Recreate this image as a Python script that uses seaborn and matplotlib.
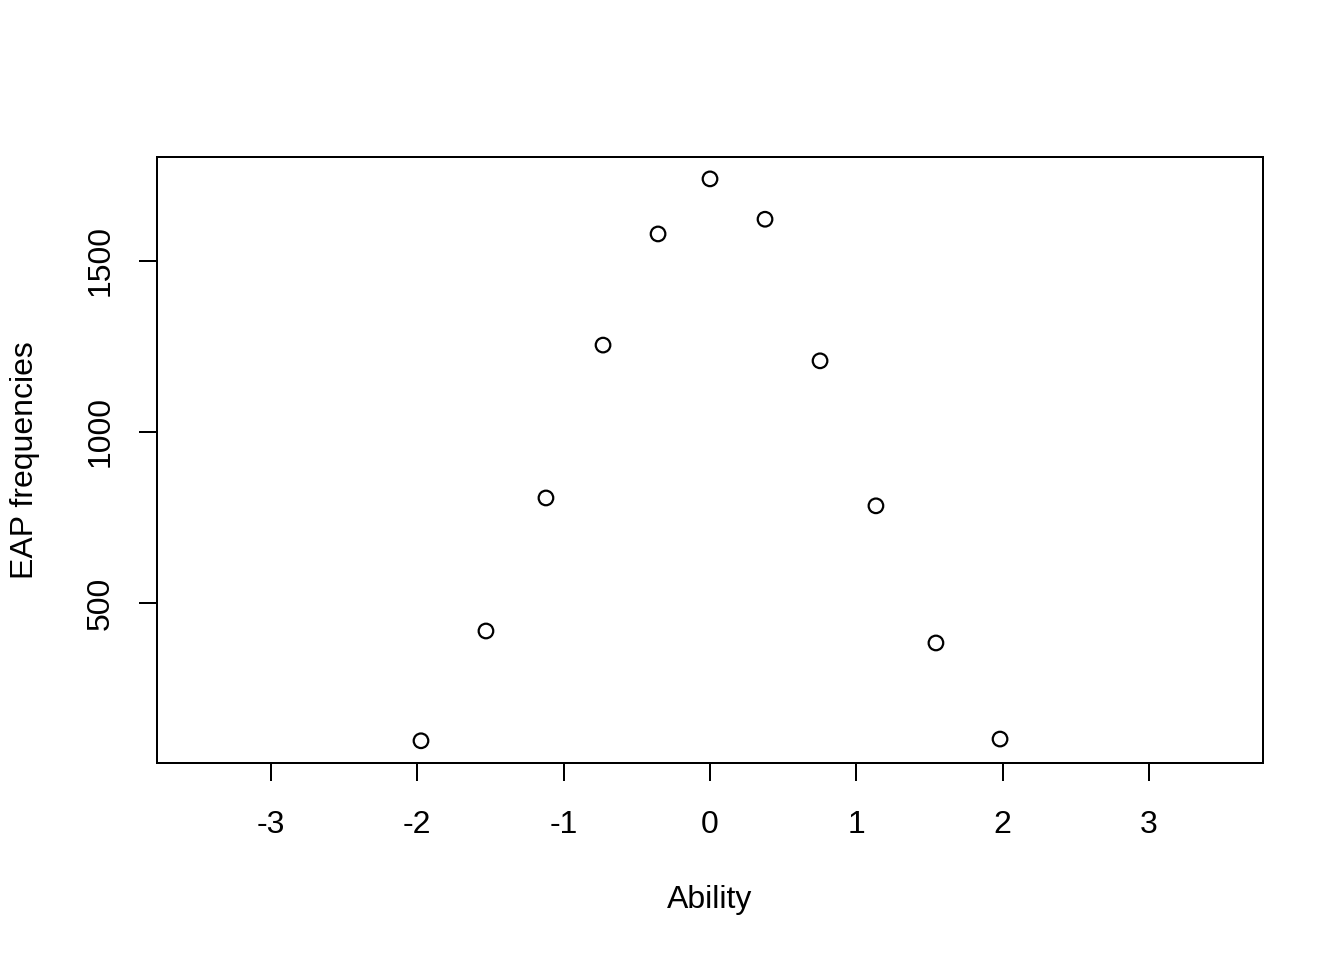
import matplotlib
matplotlib.use("Agg")
import matplotlib.pyplot as plt
import seaborn as sns
import pandas as pd

ability = [-1.975, -1.531, -1.121, -0.731, -0.355, 0.0, 0.376, 0.752, 1.134, 1.544, 1.982]
eap_freq = [97, 418, 807, 1254, 1579, 1740, 1622, 1208, 784, 383, 102]
x_ticks = [-3, -2, -1, 0, 1, 2, 3]
y_ticks = [500, 1000, 1500]

sns.set_theme(style="white")
plt.rcParams['font.family'] = ['Liberation Sans', 'DejaVu Sans']

df = pd.DataFrame({"Ability": ability, "EAP frequencies": eap_freq})

fig = plt.figure(figsize=(13.44, 9.6), dpi=100)
ax = fig.add_axes([157/1344, 1-763/960, (1263-157)/1344, (763-157)/960])

sns.scatterplot(data=df, x="Ability", y="EAP frequencies", ax=ax,
                marker="o", s=110, facecolor="none", edgecolor="black",
                linewidth=1.6)

ax.set_xlim(-3.779, 3.779)
ax.set_ylim(32, 1804)
ax.set_xticks(x_ticks)
ax.set_xticklabels([str(t) for t in x_ticks])
ax.set_yticks(y_ticks)
ax.set_yticklabels([str(t) for t in y_ticks], rotation=90, va="center")

for sp in ax.spines.values():
    sp.set_visible(True)
    sp.set_color("black")
    sp.set_linewidth(1.44)

ax.tick_params(axis="both", which="both", direction="out", length=13, width=1.44,
               color="black", labelsize=23, labelcolor="black",
               bottom=True, left=True, top=False, right=False)
ax.tick_params(axis="x", pad=21)
ax.tick_params(axis="y", pad=17)

ax.set_xlabel("Ability", fontsize=23, color="black")
ax.xaxis.set_label_coords(0.5, (763-900)/606)
ax.xaxis.label.set_va("center")
ax.set_ylabel("EAP frequencies", fontsize=23, color="black")
ax.yaxis.set_label_coords((25-157)/1106, 0.5)
ax.yaxis.label.set_va("center")

fig.savefig("out.png", dpi=100, facecolor="white")
